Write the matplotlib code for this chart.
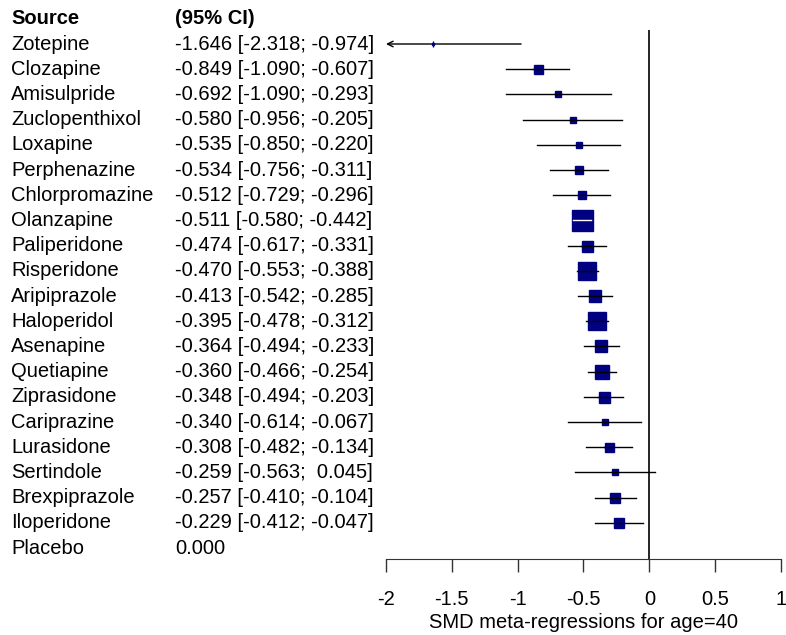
import numpy as np
import matplotlib
matplotlib.use("Agg")
import matplotlib.pyplot as plt
import matplotlib.transforms as mtransforms

plt.rcParams['font.family'] = ['Liberation Sans', 'DejaVu Sans']

drugs = ["Zotepine", "Clozapine", "Amisulpride", "Zuclopenthixol", "Loxapine",
         "Perphenazine", "Chlorpromazine", "Olanzapine", "Paliperidone", "Risperidone",
         "Aripiprazole", "Haloperidol", "Asenapine", "Quetiapine", "Ziprasidone",
         "Cariprazine", "Lurasidone", "Sertindole", "Brexpiprazole", "Iloperidone",
         "Placebo"]
smd = [-1.646, -0.849, -0.692, -0.580, -0.535, -0.534, -0.512, -0.511, -0.474, -0.470,
       -0.413, -0.395, -0.364, -0.360, -0.348, -0.340, -0.308, -0.259, -0.257, -0.229,
       0.000]
lower = [-2.318, -1.090, -1.090, -0.956, -0.850, -0.756, -0.729, -0.580, -0.617, -0.553,
         -0.542, -0.478, -0.494, -0.466, -0.494, -0.614, -0.482, -0.563, -0.410, -0.412]
upper = [-0.974, -0.607, -0.293, -0.205, -0.220, -0.311, -0.296, -0.442, -0.331, -0.388,
         -0.285, -0.312, -0.233, -0.254, -0.203, -0.067, -0.134, 0.045, -0.104, -0.047]
# relative study weight (box size)
weights = [2, 9, 6, 6, 6, 8, 8, 21, 11, 18, 12, 18, 12, 14, 11, 6, 9, 6, 10, 10]

W, H = 786, 635
fig = plt.figure(figsize=(W / 100, H / 100), dpi=100)
ax_left, ax_right = 386 / W, 781 / W
ax_bot, ax_top = (H - 559) / H, (H - 30) / H
ax = fig.add_axes([ax_left, ax_bot, ax_right - ax_left, ax_top - ax_bot])

row0, step = 44, 25.2
ax.set_xlim(-2, 1)
ax.set_ylim((559 - row0) / step, (30 - row0) / step)

navy = "#000080"
fs = 14.5
trans = mtransforms.blended_transform_factory(fig.transFigure, ax.transData)
x_name, x_ci = 11 / W, 175 / W

for i, name in enumerate(drugs):
    ax.text(x_name, i, name, transform=trans, fontsize=fs, va="center", ha="left", clip_on=False)
    if i < len(lower):
        label = f"{smd[i]:.3f} [{lower[i]:6.3f}; {upper[i]:6.3f}]"
    else:
        label = f"{smd[i]:.3f}"
    ax.text(x_ci, i, label, transform=trans, fontsize=fs, va="center", ha="left", clip_on=False)

ax.text(x_name, -1, "Source", transform=trans, fontsize=fs, fontweight="bold",
        va="center", ha="left", clip_on=False)
ax.text(x_ci, -1, "(95% CI)", transform=trans, fontsize=fs, fontweight="bold",
        va="center", ha="left", clip_on=False)

px_per_unit = 395 / 3
for i in range(len(lower)):
    lo, hi = lower[i], upper[i]
    ax.plot([smd[i]], [i], marker="s", markersize=weights[i] * 0.72, color=navy,
            markeredgecolor=navy, zorder=3)
    if lo < -2:
        ax.annotate("", xy=(-2, i), xytext=(hi, i),
                    arrowprops=dict(arrowstyle="->", lw=1, color="black",
                                    shrinkA=0, shrinkB=0), zorder=2)
        ax.plot([smd[i]], [i], marker="|", markersize=5, color=navy, zorder=4)
    else:
        ax.plot([lo, hi], [i, i], color="black", lw=1, zorder=2)
        half = 0.5 * weights[i] / px_per_unit
        col = "white" if (hi - lo) * px_per_unit < weights[i] else "black"
        ax.plot([max(lo, smd[i] - half), min(hi, smd[i] + half)], [i, i],
                color=col, lw=1, zorder=4)

ax.axvline(0, color="black", lw=1.2, zorder=1)

for s in ["top", "right", "left"]:
    ax.spines[s].set_visible(False)
ax.spines["bottom"].set_color("#333333")
ax.set_yticks([])
ax.set_xticks([-2, -1.5, -1, -0.5, 0, 0.5, 1])
ax.set_xticklabels(["-2", "-1.5", "-1", "-0.5", "0", "0.5", "1"])
ax.tick_params(axis="x", direction="out", length=9, width=1, color="#333333",
               labelsize=fs, pad=13)
ax.set_xlabel("SMD meta-regressions for age=40", fontsize=fs, labelpad=3)
ax.patch.set_alpha(0)

fig.savefig("out.png", dpi=100)
